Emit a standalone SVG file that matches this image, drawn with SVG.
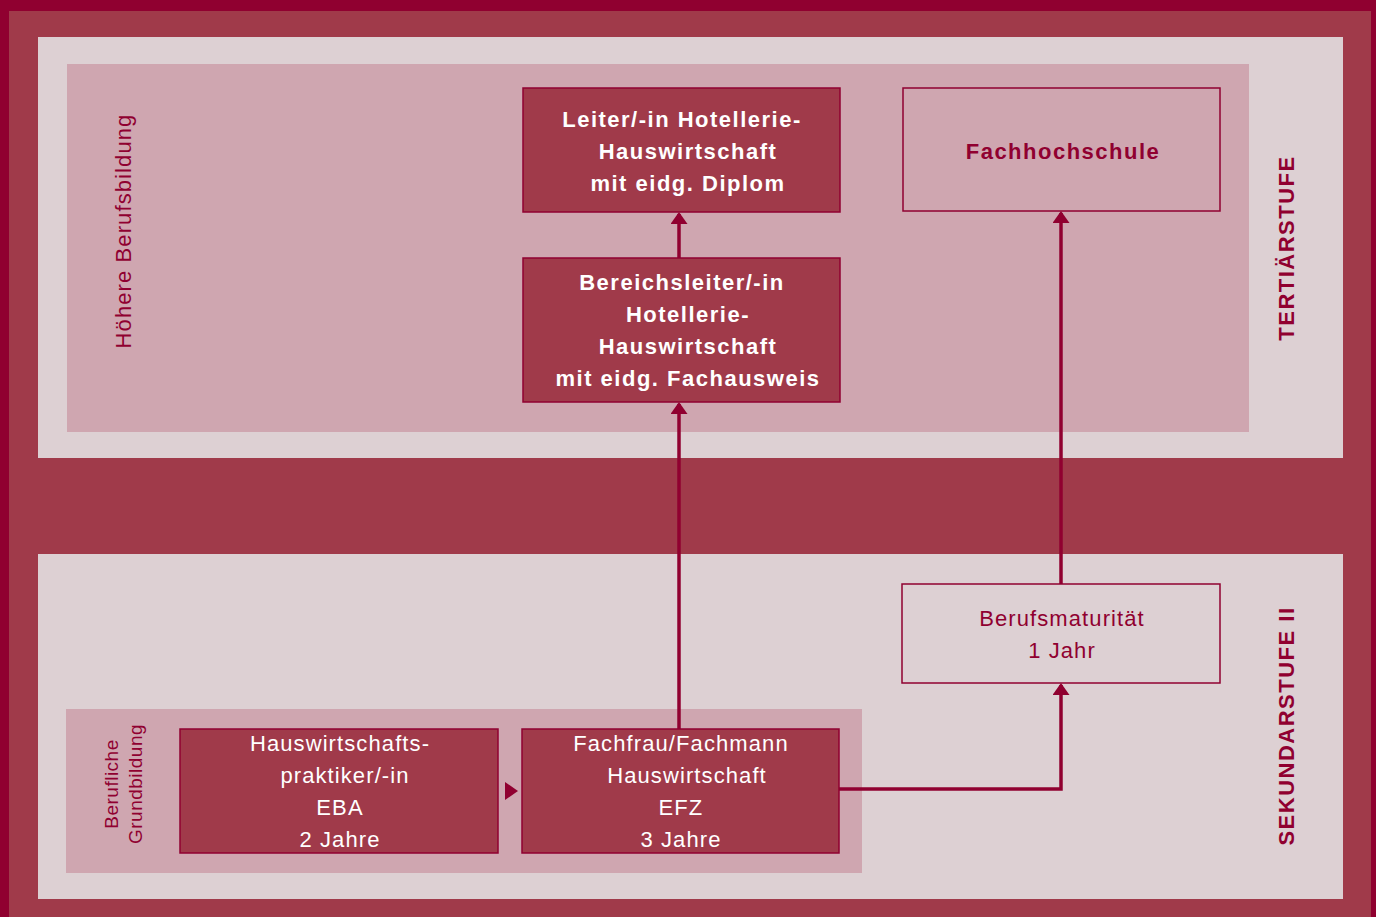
<svg xmlns="http://www.w3.org/2000/svg" width="1376" height="917" viewBox="0 0 1376 917">
<style>
.node{fill:#a03a4a;stroke:#900030;stroke-width:1.5}
.nodep{fill:#cfa6b0;stroke:#900030;stroke-width:1.5}
.nodel{fill:#ddd0d3;stroke:#900030;stroke-width:1.5}
.tw{font-family:"Liberation Sans",Arial,sans-serif;font-size:22px;fill:#ffffff;text-anchor:middle;letter-spacing:1.1px}
.tr{font-family:"Liberation Sans",Arial,sans-serif;font-size:22px;fill:#900030;text-anchor:middle;letter-spacing:1.1px}
.b{font-weight:bold;letter-spacing:1.5px}
.conn{fill:none;stroke:#900030;stroke-width:3.5}
</style>
<defs>
<marker id="ah" markerWidth="12" markerHeight="17" refX="10" refY="8.5" orient="auto" markerUnits="userSpaceOnUse">
<path d="M0,0 L12,8.5 L0,17 Z" fill="#900030"/>
</marker>
</defs>
<rect x="0" y="0" width="1376" height="917" fill="#900030"/>
<rect x="9" y="11" width="1362" height="906" fill="#a03a4a"/>
<rect x="38" y="37" width="1305" height="421" fill="#ddd0d3"/>
<rect x="67" y="64" width="1182" height="368" fill="#cfa6b0"/>
<rect x="38" y="554" width="1305" height="345" fill="#ddd0d3"/>
<rect x="66" y="709" width="796" height="164" fill="#cfa6b0"/>

<g id="labels">
<text class="tr" transform="translate(131,231) rotate(-90)">Höhere Berufsbildung</text>
<text class="tr" style="font-size:19px;letter-spacing:0.5px" transform="translate(118,784) rotate(-90)">Berufliche</text>
<text class="tr" style="font-size:19px;letter-spacing:0.5px" transform="translate(142,784) rotate(-90)">Grundbildung</text>
<text class="tr b" transform="translate(1294,248) rotate(-90)">TERTIÄRSTUFE</text>
<text class="tr b" transform="translate(1294,726) rotate(-90)">SEKUNDARSTUFE II</text>
</g>

<g id="connectors">
<line class="conn" x1="679" y1="729" x2="679" y2="404" marker-end="url(#ah)"/>
<line class="conn" x1="679" y1="258" x2="679" y2="214" marker-end="url(#ah)"/>
<line class="conn" x1="1061" y1="584" x2="1061" y2="213" marker-end="url(#ah)"/>
<polyline class="conn" points="839,789 1061,789 1061,685" marker-end="url(#ah)"/>
<path d="M505,782 L518,791 L505,800 Z" fill="#900030"/>
</g>

<g id="n-leiter">
<rect class="node" x="523" y="88" width="317" height="124"/>
<text class="tw b" x="682" y="127">Leiter/-in Hotellerie-</text>
<text class="tw b" x="688" y="159">Hauswirtschaft</text>
<text class="tw b" x="688" y="191">mit eidg. Diplom</text>
</g>

<g id="n-bereich">
<rect class="node" x="523" y="258" width="317" height="144"/>
<text class="tw b" x="682" y="290">Bereichsleiter/-in</text>
<text class="tw b" x="688" y="322">Hotellerie-</text>
<text class="tw b" x="688" y="354">Hauswirtschaft</text>
<text class="tw b" x="688" y="386">mit eidg. Fachausweis</text>
</g>

<g id="n-fh">
<rect class="nodep" x="903" y="88" width="317" height="123"/>
<text class="tr b" x="1063" y="159">Fachhochschule</text>
</g>

<g id="n-bm">
<rect class="nodel" x="902" y="584" width="318" height="99"/>
<text class="tr" x="1062" y="626">Berufsmaturität</text>
<text class="tr" x="1062" y="658">1 Jahr</text>
</g>

<g id="n-eba">
<rect class="node" x="180" y="729" width="318" height="124"/>
<text class="tw" x="340" y="751">Hauswirtschafts-</text>
<text class="tw" x="345" y="783">praktiker/-in</text>
<text class="tw" x="340" y="815">EBA</text>
<text class="tw" x="340" y="847">2 Jahre</text>
</g>

<g id="n-efz">
<rect class="node" x="522" y="729" width="317" height="124"/>
<text class="tw" x="681" y="751">Fachfrau/Fachmann</text>
<text class="tw" x="687" y="783">Hauswirtschaft</text>
<text class="tw" x="681" y="815">EFZ</text>
<text class="tw" x="681" y="847">3 Jahre</text>
</g>
</svg>
